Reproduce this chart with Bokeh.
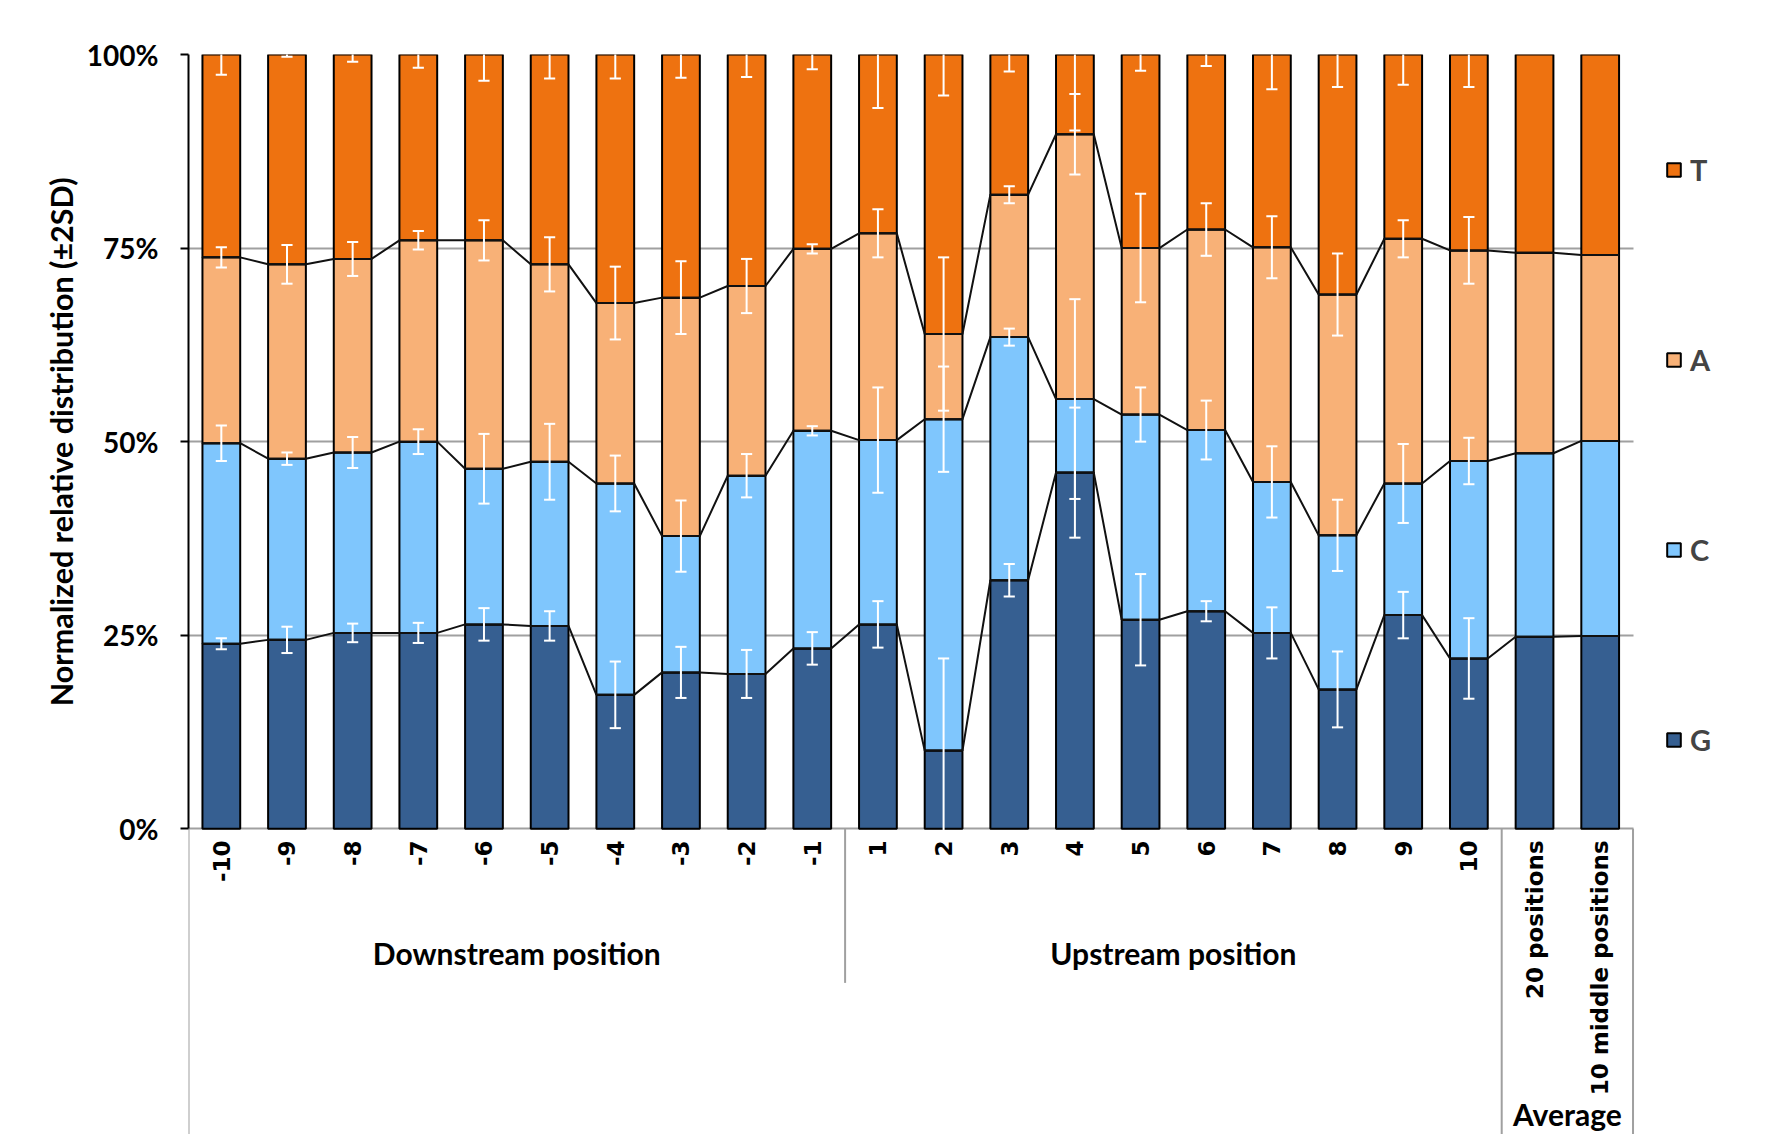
import numpy as np
from bokeh.plotting import figure
from bokeh.models import Range1d, FixedTicker, PrintfTickFormatter, Legend, LegendItem, Title
from bokeh.core.properties import value
from bokeh.embed import file_html
from bokeh.resources import INLINE

# ---------------- data ----------------
positions = ["-10", "-9", "-8", "-7", "-6", "-5", "-4", "-3", "-2", "-1",
             "1", "2", "3", "4", "5", "6", "7", "8", "9", "10",
             "20 positions", "10 middle positions"]
group_names = ["Downstream position", "Upstream position", "Average"]
group_sizes = [10, 10, 2]

# relative share (%) of each nucleotide
G = [23.9, 24.4, 25.3, 25.3, 26.4, 26.2, 17.3, 20.2, 20.0, 23.3,
     26.4, 10.1, 32.1, 46.0, 27.0, 28.1, 25.3, 18.0, 27.6, 22.0, 24.8, 24.9]
C = [25.9, 23.4, 23.3, 24.7, 20.1, 21.2, 27.3, 17.6, 25.6, 28.1,
     23.8, 42.8, 31.4, 9.5, 26.5, 23.4, 19.5, 19.9, 17.0, 25.5, 23.7, 25.2]
A = [24.0, 25.1, 25.0, 26.0, 29.5, 25.5, 23.3, 30.8, 24.5, 23.5,
     26.7, 11.0, 18.4, 34.2, 21.5, 25.9, 30.3, 31.1, 31.6, 27.2, 25.9, 24.0]
T = [26.2, 27.1, 26.4, 24.0, 24.0, 27.1, 32.1, 31.4, 29.9, 25.1,
     23.1, 36.1, 18.1, 10.3, 25.0, 22.6, 24.9, 31.0, 23.8, 25.3, 25.6, 25.9]

# +-2SD error (%) shown at the top of each segment
G_err = [0.7, 1.7, 1.2, 1.3, 2.1, 1.9, 4.3, 3.3, 3.1, 2.1,
         3.0, 11.9, 2.1, 8.4, 5.9, 1.3, 3.3, 4.9, 3.0, 5.2, 0, 0]
C_err = [2.3, 0.8, 2.0, 1.6, 4.5, 4.9, 3.6, 4.6, 2.8, 0.6,
         6.8, 6.8, 1.1, 12.9, 3.5, 3.8, 4.6, 4.6, 5.1, 3.0, 0, 0]
A_err = [1.3, 2.5, 2.2, 1.2, 2.6, 3.5, 4.7, 4.7, 3.5, 0.6,
         3.1, 9.9, 1.1, 5.2, 7.0, 3.4, 4.0, 5.3, 2.4, 4.3, 0, 0]
T_err = [2.6, 0.3, 0.95, 1.7, 3.4, 3.1, 3.1, 3.0, 2.9, 1.9,
         6.9, 5.3, 2.2, 9.8, 2.1, 1.5, 4.5, 4.2, 3.9, 4.2, 0, 0]

y_ticks = [0, 25, 50, 75, 100]
y_title = "Normalized relative distribution (\u00b12SD)"
colors = {"G": "#365F91", "C": "#7FC6FD", "A": "#F8B177", "T": "#EE7210"}

# ---------------- layout ----------------
W, H = 1780, 1134
LEFT, TOP = 188, 54
UNIT = 65.66          # px per category
PX_PER = 7.743        # px per percent
x_end = 0.5 + (W - LEFT) / UNIT
y_start = 100 - (H - TOP) / PX_PER
BAR_W = 0.575

x = np.arange(1, len(positions) + 1, dtype=float)
g = np.array(G)
gc = g + np.array(C)
gca = gc + np.array(A)
top = gca + np.array(T)

p = figure(width=W, height=H, x_range=Range1d(0.5, x_end), y_range=Range1d(y_start, 100),
           output_backend="svg", toolbar_location=None, x_axis_location=None,
           min_border_left=LEFT, min_border_right=0, min_border_top=TOP, min_border_bottom=0)
p.outline_line_color = None
p.background_fill_color = "white"

yax = p.yaxis[0]
yax.ticker = FixedTicker(ticks=y_ticks)
yax.bounds = (0, 100)
yax.formatter = PrintfTickFormatter(format="%d%%")
yax.major_label_text_font = "Lato"
yax.major_label_text_font_style = "bold"
yax.major_label_text_font_size = "28px"
yax.major_label_text_color = "black"
yax.major_label_standoff = 22
yax.axis_line_color = "black"
yax.axis_line_width = 2
yax.major_tick_out = 8
yax.major_tick_in = 0
yax.major_tick_line_width = 2
yax.minor_tick_out = 0
yax.minor_tick_in = 0

# y-axis title: its upper end placed 123 px below the top of the frame, so that
# it sits centred on the 0-100 % part of the axis
p.add_layout(Title(text=y_title, align="right", offset=123,
                   text_font="Lato", text_font_style="bold", text_font_size="30.5px",
                   text_color="black", standoff=10), "left")

p.xgrid.visible = False
p.ygrid.ticker = FixedTicker(ticks=y_ticks)
p.ygrid.grid_line_color = "#a0a0a0"
p.ygrid.grid_line_width = 2
p.ygrid.cross_bounds = (0.5, len(positions) + 0.5)

# stacked bars
rG = p.vbar(x=x, width=BAR_W, bottom=0, top=g, fill_color=colors["G"], line_color="black", line_width=2)
rC = p.vbar(x=x, width=BAR_W, bottom=g, top=gc, fill_color=colors["C"], line_color="black", line_width=2)
rA = p.vbar(x=x, width=BAR_W, bottom=gc, top=gca, fill_color=colors["A"], line_color="black", line_width=2)
rT = p.vbar(x=x, width=BAR_W, bottom=gca, top=top, fill_color=colors["T"], line_color="black", line_width=2)

# series lines between stacked segments
for lev in (g, gc, gca):
    xs = np.ravel(np.column_stack([x - BAR_W / 2, x + BAR_W / 2]))
    ys = np.ravel(np.column_stack([lev, lev]))
    p.line(xs, ys, line_color="#111111", line_width=2)

# error bars (white)
ex, elo, ehi = [], [], []
for lev, err in ((g, G_err), (gc, C_err), (gca, A_err), (top, T_err)):
    for xi, c, e in zip(x, lev, err):
        if e > 0:
            ex.append(xi); elo.append(c - e); ehi.append(c + e)
ex = np.array(ex); elo = np.array(elo); ehi = np.array(ehi)
CAP = 0.085
p.segment(x0=ex, y0=elo, x1=ex, y1=ehi, line_color="white", line_width=2)
p.segment(x0=ex - CAP, y0=elo, x1=ex + CAP, y1=elo, line_color="white", line_width=2)
p.segment(x0=ex - CAP, y0=ehi, x1=ex + CAP, y1=ehi, line_color="white", line_width=2)

# category axis: labels, group labels, separators
p.text(x=x, y=[-1.5] * len(x), text=positions, angle=np.pi / 2,
       text_align="right", text_baseline="middle",
       text_font=value("DejaVu Sans"), text_font_style="bold", text_font_size="23px",
       text_color="black")

edges = np.concatenate([[0], np.cumsum(group_sizes)]) + 0.5
centers = (edges[:-1] + edges[1:]) / 2
p.text(x=centers[:2], y=[-16.1, -16.1], text=group_names[:2],
       text_align="center", text_baseline="middle",
       text_font=value("Lato"), text_font_style="bold", text_font_size="30px", text_color="black")
p.text(x=[centers[2]], y=[y_start + 0.35], text=[group_names[2]],
       text_align="center", text_baseline="bottom",
       text_font=value("Lato"), text_font_style="bold", text_font_size="30px", text_color="black")

sep_bottom = [y_start, -19.9, y_start, y_start]
p.segment(x0=edges, y0=[0] * 4, x1=edges, y1=sep_bottom, line_color="#a0a0a0", line_width=2)

# legend
legend = Legend(items=[LegendItem(label="T", renderers=[rT]), LegendItem(label="A", renderers=[rA]),
                       LegendItem(label="C", renderers=[rC]), LegendItem(label="G", renderers=[rG])],
                location=(1477, 377), orientation="vertical",
                glyph_width=17, glyph_height=17, label_height=17, spacing=155,
                padding=0, margin=0, border_line_color=None, background_fill_alpha=0,
                label_text_font="Lato", label_text_font_style="bold", label_text_font_size="29px",
                label_standoff=8)
p.add_layout(legend)

open("out.html", "w").write(file_html(p, INLINE))
